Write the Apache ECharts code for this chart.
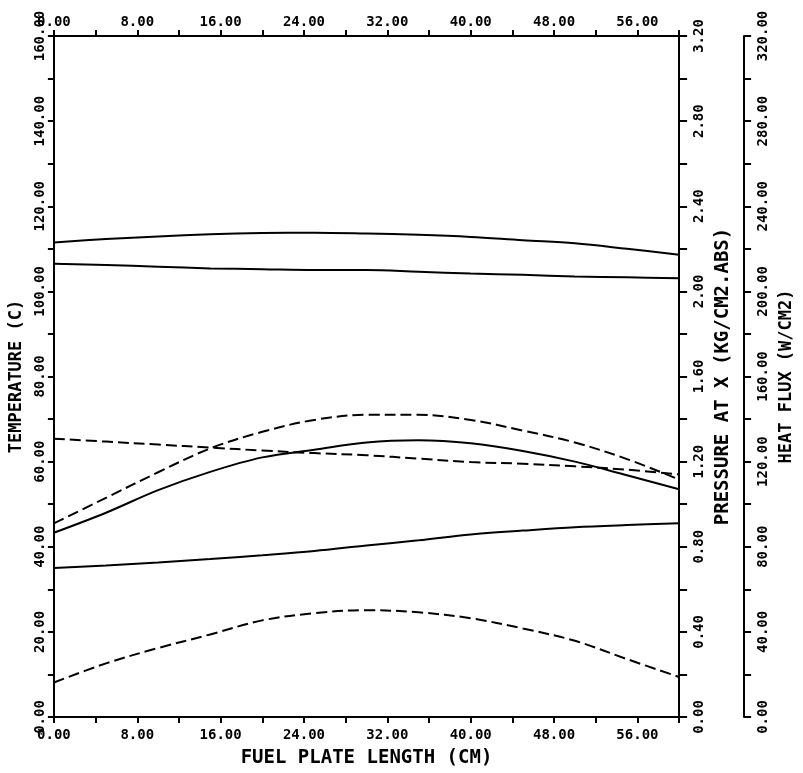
<!DOCTYPE html>
<html>
<head>
<meta charset="utf-8">
<script src="https://cdn.jsdelivr.net/npm/echarts@6/dist/echarts.min.js"></script>
<style>
html,body{margin:0;padding:0;background:#fff;}
#chart{width:803px;height:773px;}
</style>
</head>
<body>
<div id="chart"></div>
<script>
// Positions along the fuel plate (cm)
var xPositions = [0, 5, 10, 15, 20, 25, 30, 35, 40, 45, 50, 55, 60];

// Temperature curves (C)
var tempTopSolid    = [111.5, 112.3, 112.9, 113.4, 113.7, 113.8, 113.6, 113.3, 112.8, 112.0, 111.3, 110.0, 108.6];
var tempSecondSolid = [106.5, 106.2, 105.8, 105.4, 105.2, 105.0, 105.0, 104.6, 104.2, 103.9, 103.5, 103.3, 103.1];
var tempArchSolid   = [43.3, 48.0, 53.3, 57.6, 61.0, 62.8, 64.5, 65.0, 64.3, 62.5, 60.0, 56.8, 53.5];
var tempLowSolid    = [35.0, 35.6, 36.3, 37.1, 38.0, 39.0, 40.3, 41.5, 42.9, 43.8, 44.6, 45.1, 45.5];
var tempLowDashed   = [8.1, 12.6, 16.2, 19.4, 22.7, 24.4, 25.1, 24.6, 23.2, 20.8, 17.9, 13.6, 9.4];

// Pressure at X (kg/cm2 abs)
var pressure = [1.308, 1.294, 1.280, 1.266, 1.252, 1.240, 1.230, 1.214, 1.198, 1.190, 1.178, 1.162, 1.140];

// Heat flux (W/cm2)
var heatFlux = [91.0, 103.0, 115.0, 126.2, 134.0, 139.6, 142.0, 142.0, 139.6, 134.6, 129.0, 121.2, 111.6];

// Axis ticks
var xTickStep = 4, xLabelStep = 8, xMax = 60;
var tempMax = 160, tempTick = 10, tempLabelStep = 20;
var presMax = 3.2, presTick = 0.2, presLabelStep = 0.4;
var fluxMax = 320, fluxTick = 20, fluxLabelStep = 40;

function pairs(ys) { return xPositions.map(function (x, i) { return [x, ys[i]]; }); }

var FONT = 'DejaVu Sans Mono';
var axisLineStyle = { color: '#000', width: 2 };

function labelFor(step) {
  return function (v) {
    var r = Math.round(v / step * 1000) / 1000;
    return Math.abs(r - Math.round(r)) < 1e-6 ? v.toFixed(2) : '';
  };
}

function xAxisDef(pos, margin, withName) {
  var a = {
    type: 'value', position: pos, min: 0, max: xMax, interval: xTickStep,
    axisLine: { show: true, onZero: false, lineStyle: axisLineStyle },
    axisTick: { show: true, inside: false, length: 6, lineStyle: { color: '#000', width: 2 } },
    splitLine: { show: false },
    axisLabel: { show: true, margin: margin, color: '#000', fontFamily: FONT, fontWeight: 'bold', fontSize: 14,
      formatter: function (v) { return (v % xLabelStep === 0 && v < xMax) ? v.toFixed(2) : ''; } }
  };
  if (withName) {
    a.name = 'FUEL PLATE LENGTH (CM)';
    a.nameLocation = 'middle';
    a.nameGap = 32;
    a.nameTextStyle = { color: '#000', fontFamily: FONT, fontWeight: 'bold', fontSize: 19 };
  }
  return a;
}

function yAxisDef(opts) {
  return {
    type: 'value', position: opts.pos, offset: opts.offset || 0,
    min: 0, max: opts.max, interval: opts.tick,
    name: opts.name, nameLocation: 'middle', nameGap: opts.nameGap, nameRotate: 90,
    nameTextStyle: { color: '#000', fontFamily: FONT, fontWeight: 'bold', fontSize: opts.nameSize },
    axisLine: { show: true, onZero: false, lineStyle: axisLineStyle },
    axisTick: { show: true, inside: false, length: opts.tickLen, lineStyle: { color: '#000', width: 2 } },
    splitLine: { show: false },
    axisLabel: { show: true, rotate: 90, margin: opts.margin, color: '#000', fontFamily: FONT, fontWeight: 'bold', fontSize: 14,
      formatter: labelFor(opts.labelStep) }
  };
}

var lineSolid = { color: '#000', width: 2, type: 'solid' };
var lineDash = { color: '#000', width: 2, type: [11, 5] };

function series(name, ys, yIdx, style) {
  return { name: name, type: 'line', xAxisIndex: 0, yAxisIndex: yIdx, data: pairs(ys),
    smooth: 0.35, showSymbol: false, symbol: 'none', lineStyle: style, silent: true };
}

var chart = echarts.init(document.getElementById('chart'), null, { renderer: 'canvas' });
chart.setOption({
  backgroundColor: '#fff',
  animation: false,
  grid: { left: 53, right: 113, top: 36, bottom: 49, containLabel: false },
  xAxis: [xAxisDef('bottom', 11, true), xAxisDef('top', 7, false)],
  yAxis: [
    yAxisDef({ pos: 'left', max: tempMax, tick: tempTick, labelStep: tempLabelStep, name: 'TEMPERATURE (C)', nameGap: 26, nameSize: 17, margin: 7, tickLen: 6 }),
    yAxisDef({ pos: 'right', max: presMax, tick: presTick, labelStep: presLabelStep, name: 'PRESSURE AT X (KG/CM2.ABS)', nameGap: 28, nameSize: 19, margin: 13, tickLen: 8 }),
    yAxisDef({ pos: 'right', offset: 65, max: fluxMax, tick: fluxTick, labelStep: fluxLabelStep, name: 'HEAT FLUX (W/CM2)', nameGap: 29, nameSize: 17, margin: 12, tickLen: 7 })
  ],
  series: [
    series('Temperature 1', tempTopSolid, 0, lineSolid),
    series('Temperature 2', tempSecondSolid, 0, lineSolid),
    series('Pressure', pressure, 1, lineDash),
    series('Heat flux', heatFlux, 2, lineDash),
    series('Temperature 3', tempArchSolid, 0, lineSolid),
    series('Temperature 4', tempLowSolid, 0, lineSolid),
    series('Temperature 5', tempLowDashed, 0, lineDash)
  ]
});
</script>
</body>
</html>
